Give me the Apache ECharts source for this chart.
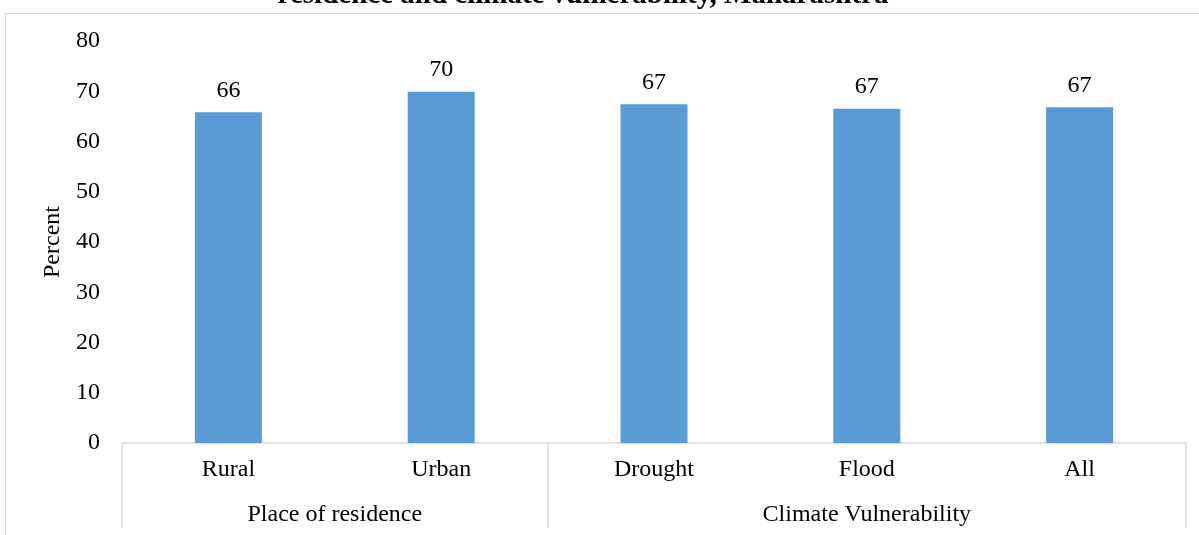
<!DOCTYPE html>
<html>
<head>
<meta charset="utf-8">
<script src="https://cdn.jsdelivr.net/npm/echarts@6/dist/echarts.min.js"></script>
<style>
  html, body { margin: 0; padding: 0; background: #fff; }
  #chart { width: 1199px; height: 535px; }
</style>
</head>
<body>
<div id="chart"></div>
<script>
// Categories and their grouping
const categories = ['Rural', 'Urban', 'Drought', 'Flood', 'All'];
const groupNames = ['Place of residence', 'Climate Vulnerability'];
const groupSizes = [2, 3];

// Percent values per category
const values = [65.8, 69.9, 67.4, 66.5, 66.8];

const titleText = 'residence and climate vulnerability, Maharashtra';
const yTicks = { min: 0, max: 80, interval: 10 };

// Group boundaries and centres in category units
const groupEdges = [0];
groupSizes.forEach(s => groupEdges.push(groupEdges[groupEdges.length - 1] + s));
const groupCenters = groupSizes.map((s, i) => groupEdges[i] + s / 2);

const serif = '"Liberation Serif", "Times New Roman", serif';
const gray = '#d9d9d9';
const fs = 24;

const chart = echarts.init(document.getElementById('chart'), null, { renderer: 'canvas' });

chart.setOption({
  animation: false,
  backgroundColor: '#fff',
  textStyle: { fontFamily: serif },
  grid: { left: 122, right: 13, top: 41, bottom: 92, containLabel: false },
  graphic: [
    {
      type: 'rect',
      shape: { x: 5.5, y: 13.5, width: 1400, height: 700 },
      style: { fill: null, stroke: gray, lineWidth: 1.5 },
      silent: true,
      z: 0
    },
    {
      type: 'text',
      x: 583,
      y: 10,
      style: {
        text: titleText,
        fontFamily: serif,
        fontWeight: 'bold',
        fontSize: 29,
        fill: '#000',
        align: 'center',
        verticalAlign: 'bottom'
      },
      silent: true
    }
  ],
  xAxis: [
    {
      type: 'category',
      data: categories,
      position: 'bottom',
      axisLine: { show: true, lineStyle: { color: gray, width: 1.5 } },
      axisTick: { show: false },
      axisLabel: { color: '#000', fontSize: fs, fontFamily: serif, margin: 15 },
      splitLine: { show: false }
    },
    {
      type: 'value',
      min: 0,
      max: categories.length,
      position: 'bottom',
      offset: 0,
      axisLine: { show: false },
      axisTick: {
        show: true,
        customValues: groupEdges,
        length: 85,
        lineStyle: { color: gray, width: 1.5 }
      },
      axisLabel: {
        show: true,
        customValues: groupCenters,
        formatter: v => {
          const i = groupCenters.indexOf(v);
          return i >= 0 ? groupNames[i] : '';
        },
        color: '#000',
        fontSize: fs,
        fontFamily: serif,
        margin: 60
      },
      splitLine: { show: false }
    }
  ],
  yAxis: {
    type: 'value',
    min: yTicks.min,
    max: yTicks.max,
    interval: yTicks.interval,
    name: 'Percent',
    nameLocation: 'middle',
    nameGap: 47,
    nameTextStyle: { color: '#000', fontSize: fs, fontFamily: serif },
    axisLine: { show: false },
    axisTick: { show: false },
    splitLine: { show: false },
    axisLabel: { color: '#000', fontSize: fs, fontFamily: serif, margin: 22 }
  },
  series: [
    {
      type: 'bar',
      xAxisIndex: 0,
      data: values,
      barWidth: 67,
      itemStyle: { color: '#5b9bd5' },
      label: {
        show: true,
        position: 'top',
        distance: 10,
        color: '#000',
        fontSize: fs,
        fontFamily: serif,
        formatter: p => Math.round(p.value)
      }
    }
  ]
});
</script>
</body>
</html>
